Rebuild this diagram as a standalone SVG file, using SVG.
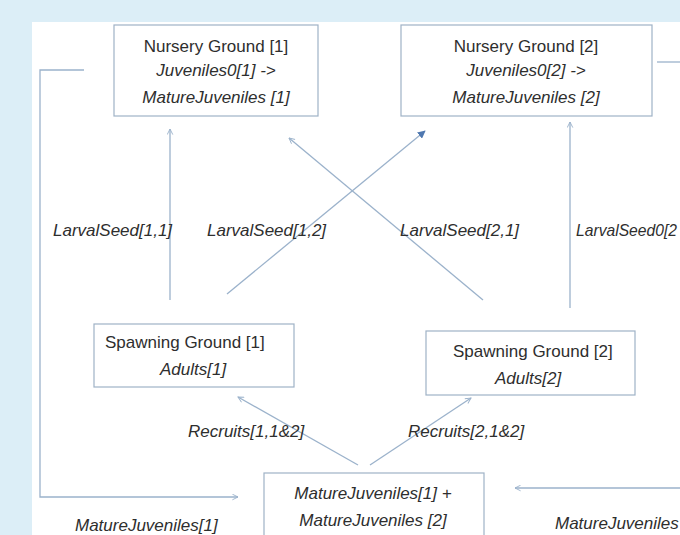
<svg xmlns="http://www.w3.org/2000/svg" width="680" height="535" viewBox="0 0 680 535">
<style>
.box{fill:#fff;stroke:#9fb2c6;stroke-width:1.2}
.t{font-family:"Liberation Sans",Arial,sans-serif;font-size:17px;fill:#2e2e2e}
.i{font-style:italic}
.c{text-anchor:middle}
.ln{fill:none;stroke:#9bb2cb;stroke-width:1.3}
</style>
<defs>
<marker id="open" viewBox="0 0 10 10" refX="9" refY="5" markerWidth="7" markerHeight="7" orient="auto" markerUnits="userSpaceOnUse">
<path d="M1,1 L9,5 L1,9" fill="none" stroke="#9bb2cb" stroke-width="1.3"/>
</marker>
<marker id="fill" viewBox="0 0 10 10" refX="9" refY="5" markerWidth="8" markerHeight="8" orient="auto" markerUnits="userSpaceOnUse">
<path d="M0,0 L10,5 L0,10 Z" fill="#4f78b0"/>
</marker>
</defs>
<rect x="0" y="0" width="680" height="535" fill="#dceef7"/>
<rect x="32" y="22" width="648" height="513" fill="#fff"/>

<g id="connectors">
<polyline class="ln" points="84,70 40,70 40,497 238,497" marker-end="url(#open)"/>
<line class="ln" x1="657" y1="62" x2="680" y2="62"/>
<line class="ln" x1="680" y1="488" x2="515" y2="488" marker-end="url(#open)"/>
<line class="ln" x1="170" y1="300" x2="170" y2="129" marker-end="url(#open)"/>
<line class="ln" x1="227" y1="294" x2="425" y2="131" marker-end="url(#fill)"/>
<line class="ln" x1="483" y1="300" x2="289" y2="138" marker-end="url(#open)"/>
<line class="ln" x1="570" y1="308" x2="570" y2="122" marker-end="url(#open)"/>
<line class="ln" x1="358" y1="465" x2="238" y2="397" marker-end="url(#open)"/>
<line class="ln" x1="370" y1="465" x2="471" y2="398" marker-end="url(#open)"/>
</g>

<g id="nursery1">
<rect class="box" x="114" y="25" width="204" height="91"/>
<text class="t c" x="216" y="52">Nursery Ground [1]</text>
<text class="t c i" x="216" y="76">Juveniles0[1] -&gt;</text>
<text class="t c i" x="216" y="103">MatureJuveniles [1]</text>
</g>

<g id="nursery2">
<rect class="box" x="401" y="25" width="251" height="91"/>
<text class="t c" x="526" y="52">Nursery Ground [2]</text>
<text class="t c i" x="526" y="76">Juveniles0[2] -&gt;</text>
<text class="t c i" x="526" y="103">MatureJuveniles [2]</text>
</g>

<g id="spawning1">
<rect class="box" x="94" y="324" width="200" height="63"/>
<text class="t" x="105" y="348">Spawning Ground [1]</text>
<text class="t i" x="160" y="375">Adults[1]</text>
</g>

<g id="spawning2">
<rect class="box" x="426" y="331" width="209" height="64"/>
<text class="t" x="453" y="357">Spawning Ground [2]</text>
<text class="t i" x="495" y="384">Adults[2]</text>
</g>

<g id="mature">
<rect class="box" x="264" y="473" width="220" height="80"/>
<text class="t c i" x="373" y="499">MatureJuveniles[1] +</text>
<text class="t c i" x="373" y="526">MatureJuveniles [2]</text>
</g>

<g id="labels">
<text class="t i" x="53" y="236" font-size="16.4">LarvalSeed[1,1]</text>
<text class="t i" x="207" y="236" font-size="16.4">LarvalSeed[1,2]</text>
<text class="t i" x="400" y="236" font-size="16.4">LarvalSeed[2,1]</text>
<text class="t i" x="576" y="236" font-size="16.4" textLength="101" lengthAdjust="spacingAndGlyphs">LarvalSeed0[2</text>
<text class="t i" x="188" y="437" font-size="16.4">Recruits[1,1&amp;2]</text>
<text class="t i" x="408" y="437" font-size="16.4">Recruits[2,1&amp;2]</text>
<text class="t i" x="75" y="531">MatureJuveniles[1]</text>
<text class="t i" x="555" y="529">MatureJuveniles</text>
</g>
</svg>
